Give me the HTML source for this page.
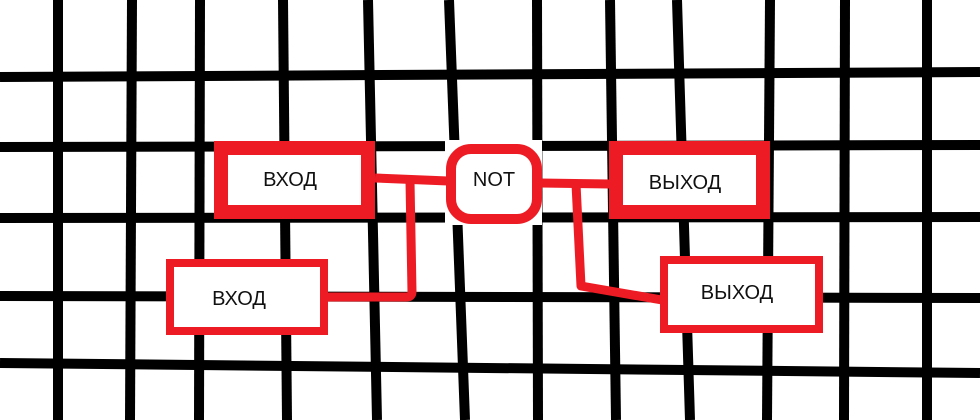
<!DOCTYPE html>
<html><head><meta charset="utf-8"><style>
html,body{margin:0;padding:0;background:#fff;}
svg{display:block;}
text{font-family:"Liberation Sans",sans-serif;font-size:20px;fill:#111;}
</style></head><body>
<svg width="980" height="420" viewBox="0 0 980 420">
<g stroke="#000" stroke-width="10" fill="none">
<line x1="58" y1="0" x2="58" y2="420"/>
<line x1="132" y1="0" x2="130" y2="420"/>
<line x1="200" y1="0" x2="199" y2="420"/>
<line x1="283" y1="0" x2="287" y2="420"/>
<line x1="368" y1="0" x2="377" y2="420"/>
<line x1="449" y1="0" x2="465" y2="420"/>
<line x1="537" y1="0" x2="538" y2="420"/>
<line x1="610" y1="0" x2="616" y2="420"/>
<line x1="677" y1="0" x2="690" y2="420"/>
<line x1="770" y1="0" x2="767" y2="420"/>
<line x1="845" y1="0" x2="844" y2="420"/>
<line x1="927" y1="0" x2="927" y2="420"/>
<line x1="0" y1="77" x2="980" y2="72"/>
<line x1="0" y1="147" x2="980" y2="145"/>
<line x1="0" y1="218" x2="980" y2="217"/>
<line x1="0" y1="296" x2="980" y2="298"/>
<line x1="0" y1="363" x2="980" y2="373"/>
</g>
<rect x="445" y="140" width="97" height="85" fill="#fff"/>
<g stroke="#ed1c24" stroke-width="9" fill="none" stroke-linejoin="round">
<path d="M375 178 L448 181"/>
<path d="M410 181 L412 292 Q412 297 406 297 L326 297"/>
<path d="M540 183 L610 184"/>
<path d="M576 184 L581 286 L662 300"/>
</g>
<g>
<rect x="221" y="148" width="147" height="64" fill="#fff" stroke="#ed1c24" stroke-width="14"/>
<text x="290" y="186" text-anchor="middle">ВХОД</text>
</g>
<g>
<rect x="170" y="263" width="154" height="68" fill="#fff" stroke="#ed1c24" stroke-width="8"/>
<text x="239" y="305" text-anchor="middle">ВХОД</text>
</g>
<g>
<rect x="451" y="149" width="86" height="70" rx="20" fill="#fff" stroke="#ed1c24" stroke-width="10"/>
<text x="494" y="186" text-anchor="middle">NOT</text>
</g>
<g>
<rect x="616" y="148" width="147" height="64" fill="#fff" stroke="#ed1c24" stroke-width="14"/>
<text x="685" y="189" text-anchor="middle">ВЫХОД</text>
</g>
<g>
<rect x="664" y="260" width="155" height="69" fill="#fff" stroke="#ed1c24" stroke-width="8"/>
<text x="737" y="299" text-anchor="middle">ВЫХОД</text>
</g>
</svg>
</body></html>
